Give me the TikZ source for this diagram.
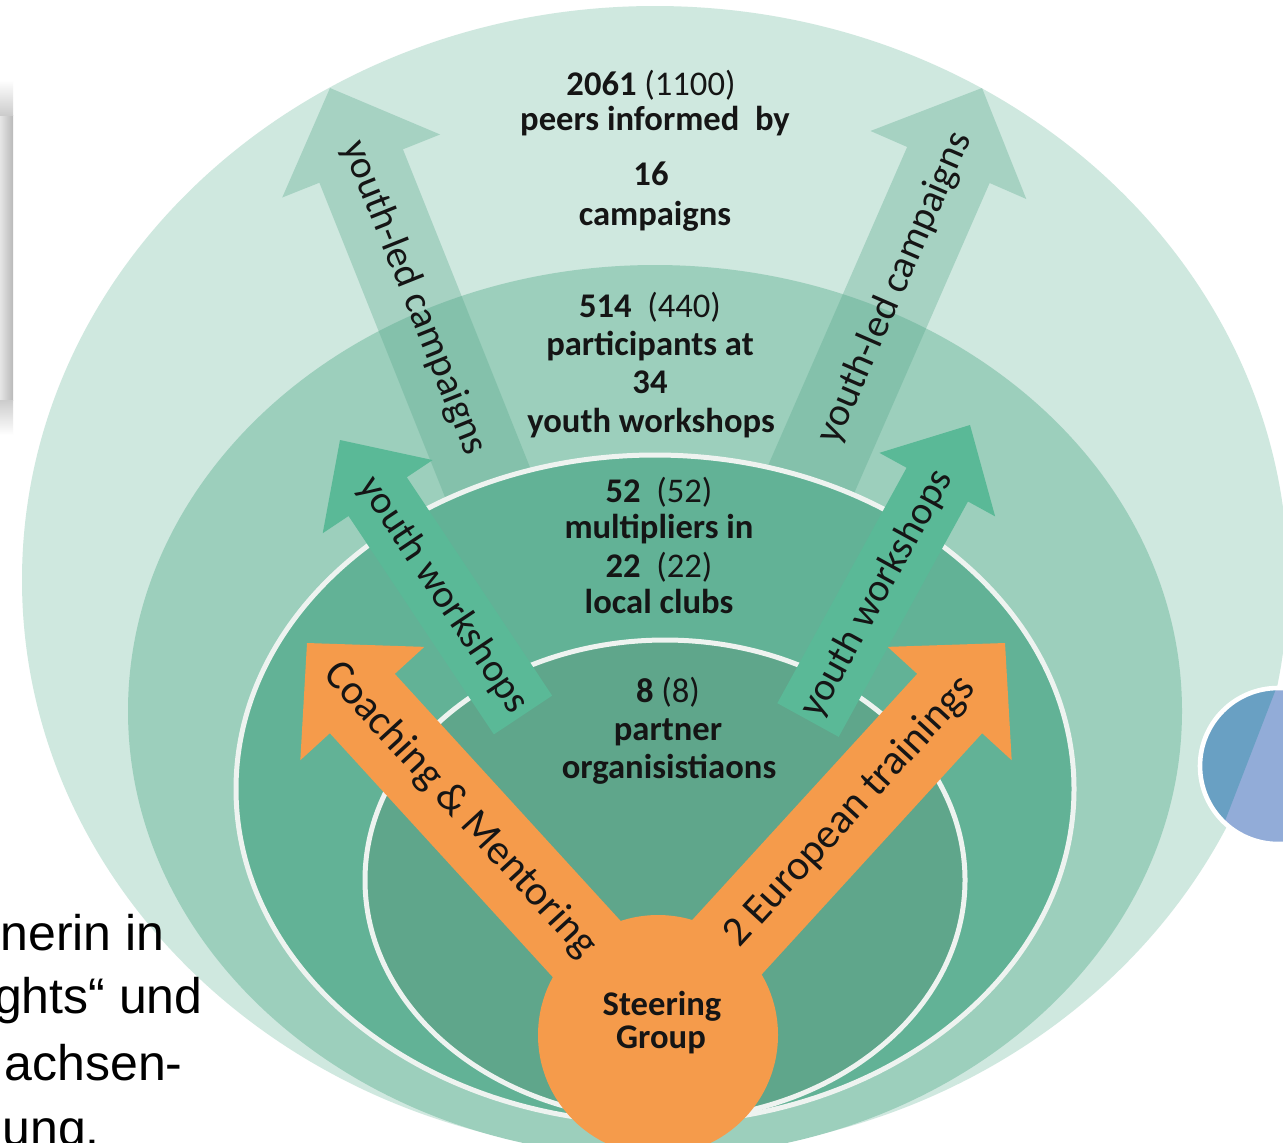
\documentclass[tikz,border=0pt]{standalone}
\usepackage{fontspec}
\setmainfont{Carlito}
\newfontfamily\arialfont{Liberation Sans}
\usetikzlibrary{calc}
\definecolor{bandA}{HTML}{CFE8DF}
\definecolor{bandB}{HTML}{9CCFBC}
\definecolor{bandC}{HTML}{62B296}
\definecolor{bandD}{HTML}{5FA68B}
\definecolor{campc}{HTML}{5AA98E}
\definecolor{workc}{HTML}{5AB997}
\definecolor{orangec}{HTML}{F59B4B}
\definecolor{bluedark}{HTML}{69A0C3}
\definecolor{bluelight}{HTML}{92ACD8}
\definecolor{ringline}{HTML}{EEF3F0}
\definecolor{txt}{HTML}{151515}
% tail, tip, half shaft width, half head width, head length, style
\newcommand\blockarrow[6]{%
  \coordinate (#2-b) at ($(#2)!#5!(#1)$);
  \fill[#6] ($(#1)!#3!90:(#2)$) -- ($(#2-b)!#3!-90:(#1)$) -- ($(#2-b)!#4!-90:(#1)$)
    -- (#2) -- ($(#2-b)!#4!90:(#1)$) -- ($(#2-b)!#3!90:(#1)$) -- ($(#1)!#3!-90:(#2)$) -- cycle;
}
\begin{document}
\begin{tikzpicture}[x=0.5pt,y=-0.5pt,
  numtext/.style={font=\fontsize{17.3}{19}\selectfont, text=txt, inner sep=0pt, anchor=base},
  alabel/.style={font=\fontsize{19.8}{22}\selectfont, text=txt, inner sep=0pt},
  olabel/.style={font=\fontsize{21}{23}\selectfont, text=txt, inner sep=0pt},
  bltext/.style={font=\arialfont\fontsize{25}{28}\selectfont, text=black, inner sep=0pt},
  ring/.style={draw=ringline, line width=2.5pt}]
\useasboundingbox (0,0) rectangle (1283,1142);
\clip (0,0) rectangle (1283,1142);
\fill[white] (0,0) rectangle (1283,1142);

% gray strip at the left edge
\shade[left color=gray!20, right color=gray!55] (0,115) rectangle (13,400);
\shade[top color=white, bottom color=gray!40] (0,80) rectangle (13,115);
\shade[top color=gray!40, bottom color=white] (0,400) rectangle (13,435);

% nested ellipses
\fill[bandA] (655,580) ellipse [x radius=316.5pt, y radius=287pt];
\fill[bandB] (655,711) ellipse [x radius=263.5pt, y radius=223pt];

% youth-led campaign arrows (behind inner rings)
\coordinate (cL0) at (493,496); \coordinate (cL1) at (330,88);
\coordinate (cR0) at (806,491); \coordinate (cR1) at (982,88);
\blockarrow{cL0}{cL1}{22.5pt}{42.5pt}{42pt}{campc, fill opacity=0.35}
\blockarrow{cR0}{cR1}{22.5pt}{42.5pt}{42pt}{campc, fill opacity=0.35}

\fill[bandC] (655,789) ellipse [x radius=209.5pt, y radius=167pt];
\draw[ring] (655,789) ellipse [x radius=209.5pt, y radius=167pt];
\fill[bandD] (665,880) ellipse [x radius=150pt, y radius=120pt];
\draw[ring] (665,880) ellipse [x radius=150pt, y radius=120pt];

% youth workshop arrows
\coordinate (wL0) at (523,715); \coordinate (wL1) at (340,440);
\coordinate (wR0) at (808,720); \coordinate (wR1) at (970,425);
\blockarrow{wL0}{wL1}{17.5pt}{33pt}{34pt}{workc}
\blockarrow{wR0}{wR1}{17.5pt}{33pt}{34pt}{workc}

% orange arrows
\coordinate (oL0) at (658,1027); \coordinate (oL1) at (307,643);
\coordinate (oR0) at (654,1027); \coordinate (oR1) at (1005,643);
\blockarrow{oL0}{oL1}{22pt}{42pt}{41pt}{orangec}
\blockarrow{oR0}{oR1}{22pt}{42pt}{41pt}{orangec}

% steering group circle
\node[circle, fill=orangec, minimum size=120pt, inner sep=0pt] (steer) at (658,1035) {};

% blue circle at the right edge
\begin{scope}
  \clip (1278,766) circle [radius=39pt];
  \fill[bluelight] (1278,766) circle [radius=39pt];
  \fill[bluedark] (1150,650) -- (1291,650) -- (1206,870) -- (1150,870) -- cycle;
\end{scope}
\node[circle, draw=white, line width=2.3pt, minimum size=78pt, inner sep=0pt] (bluec) at (1278,766) {};

% arrow labels
\node[alabel, rotate=-68.2] (lcamp) at (414,298) {youth-led campaigns};
\node[alabel, rotate=66.5] (rcamp) at (895,288) {youth-led campaigns};
\node[alabel, rotate=-56.3] (lwork) at (443,595) {youth workshops};
\node[alabel, rotate=61.2] (rwork) at (877,594) {youth workshops};
\node[olabel, rotate=-47.5] (lorange) at (460,810) {Coaching \& Mentoring};
\node[olabel, rotate=47.5] (rorange) at (850,812) {2 European trainings};

% centre texts
\node[numtext] (t1) at (651,95) {\textbf{2061} (1100)};
\node[numtext] (t2) at (655,130) {\textbf{peers informed\ \ by}};
\node[numtext] (t3) at (651,185) {\textbf{16}};
\node[numtext] (t4) at (655,225) {\textbf{campaigns}};
\node[numtext] (t5) at (650,317) {\textbf{514}\ \ (440)};
\node[numtext] (t6) at (650,355) {\textbf{participants at}};
\node[numtext] (t7) at (650,393) {\textbf{34}};
\node[numtext] (t8) at (651,432) {\textbf{youth workshops}};
\node[numtext] (t9) at (659,502) {\textbf{52}\ \ (52)};
\node[numtext] (t10) at (659,538) {\textbf{multipliers in}};
\node[numtext] (t11) at (659,577) {\textbf{22}\ \ (22)};
\node[numtext] (t12) at (659,613) {\textbf{local clubs}};
\node[numtext] (t13) at (668,702) {\textbf{8} (8)};
\node[numtext] (t14) at (668,740) {\textbf{partner}};
\node[numtext] (t15) at (669,778) {\textbf{organisistiaons}};
\node[numtext] (t16) at (662,1015) {\textbf{Steering}};
\node[numtext] (t17) at (661,1048) {\textbf{Group}};

% cropped slide text at bottom left
\node[bltext, anchor=base east] (b1) at (165,950) {nerin in};
\node[bltext, anchor=base east] (b2) at (203,1013) {ghts“ und};
\node[bltext, anchor=base east] (b3) at (183,1080) {achsen-};
\node[bltext, anchor=base west] (b4) at (2,1145) {ung.};
\end{tikzpicture}
\end{document}
